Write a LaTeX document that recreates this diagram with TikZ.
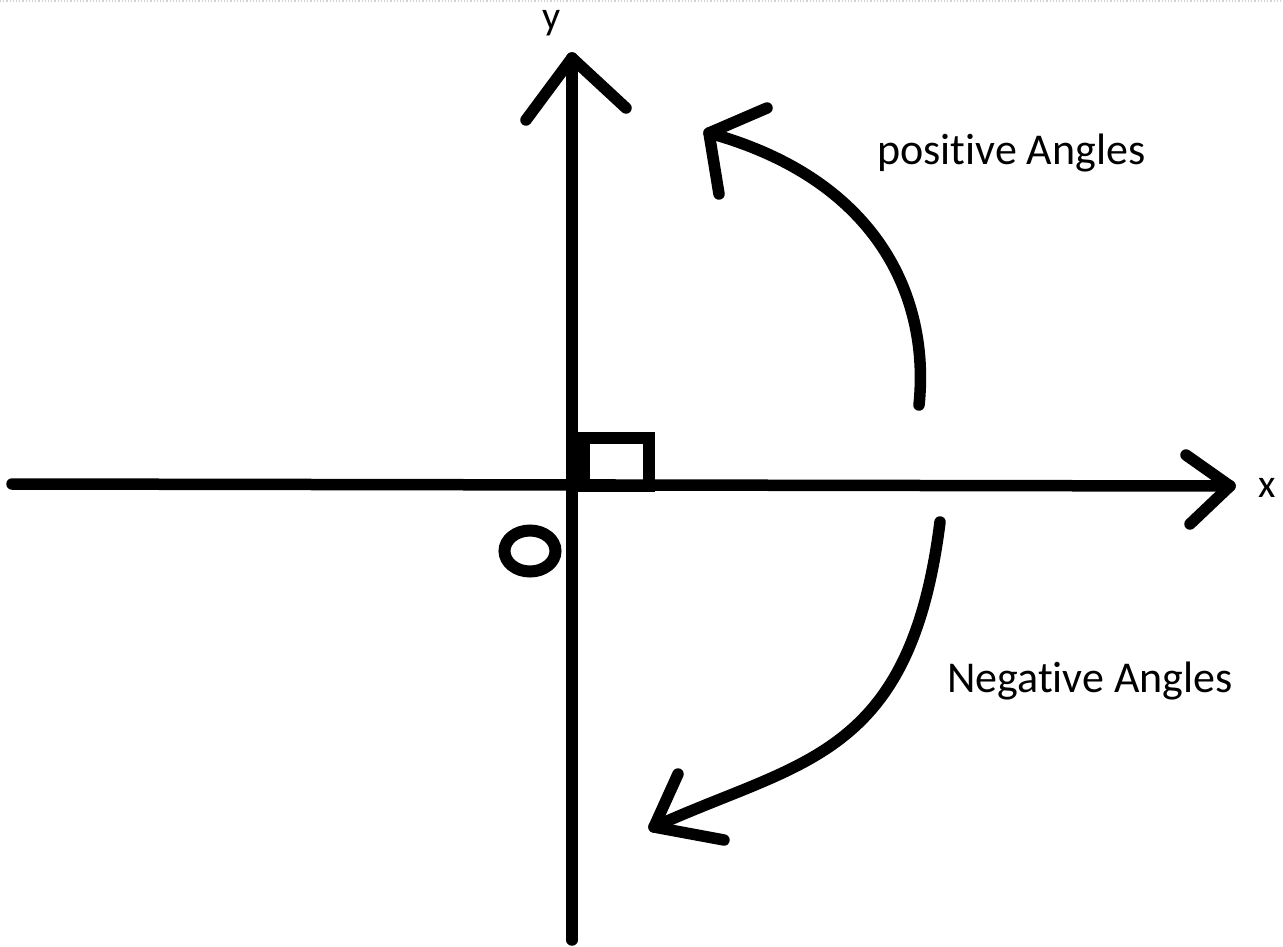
\documentclass[tikz,border=0pt]{standalone}
\usepackage{fontspec}
\setmainfont[Ligatures=NoCommon]{Carlito}
\usetikzlibrary{shapes.geometric}
\begin{document}
\begin{tikzpicture}[x=1pt,y=-1pt,
  stroke/.style={line width=11.5pt,line cap=round,line join=round},
  lbl/.style={font=\fontsize{44}{50}\selectfont,inner sep=0pt,text=black},
  axlbl/.style={font=\fontsize{40}{46}\selectfont,inner sep=0pt,text=black}]
\useasboundingbox (0,0) rectangle (1283,946);
\draw[gray!35,dotted,line width=1.2pt] (0,1) -- (1283,1);
% coordinates
\coordinate (xl) at (12,484);
\coordinate (xr) at (1230,486);
\coordinate (xa1) at (1186,455);
\coordinate (xa2) at (1190,524);
\coordinate (yb) at (572,940);
\coordinate (yt) at (572,58);
\coordinate (ya1) at (526,120);
\coordinate (ya2) at (626,108);
% axes
\draw[stroke] (xl) -- (xr);
\draw[stroke] (xa1) -- (xr) -- (xa2);
\draw[stroke] (yb) -- (yt);
\draw[stroke] (ya1) -- (yt) -- (ya2);
% right angle box
\coordinate (b1) at (584,486);
\coordinate (b2) at (584,438);
\coordinate (b3) at (649,438);
\coordinate (b4) at (649,486);
\draw[line width=11.5pt,line join=miter] (b1) -- (b2) -- (b3) -- (b4) -- cycle;
\fill (572,479) rectangle (590,492);
% origin circle
\node[draw,line width=12pt,ellipse,minimum width=51pt,minimum height=41pt,inner sep=0pt] (O) at (530,551) {};
% positive arrow
\coordinate (ps) at (919,405);
\coordinate (pt) at (709,133);
\coordinate (pa1) at (767,108);
\coordinate (pa2) at (719,194);
\draw[stroke] (ps) .. controls (930,300) and (880,180) .. (pt);
\draw[stroke] (pa1) -- (pt) -- (pa2);
% negative arrow
\coordinate (ns) at (940,522);
\coordinate (nt) at (654,827);
\coordinate (na1) at (678,774);
\coordinate (na2) at (724,840);
\draw[stroke] (ns) .. controls (910,760) and (800,760) .. (nt);
\draw[stroke] (na1) -- (nt) -- (na2);
% labels
\node[lbl,anchor=base west] (pos) at (877,164) {positive Angles};
\node[lbl,anchor=base west] (neg) at (947,692) {Negative Angles};
\node[axlbl,anchor=base] (ylab) at (552,29) {y};
\node[axlbl,anchor=base west] (xlab) at (1258,497) {x};
\end{tikzpicture}
\end{document}
